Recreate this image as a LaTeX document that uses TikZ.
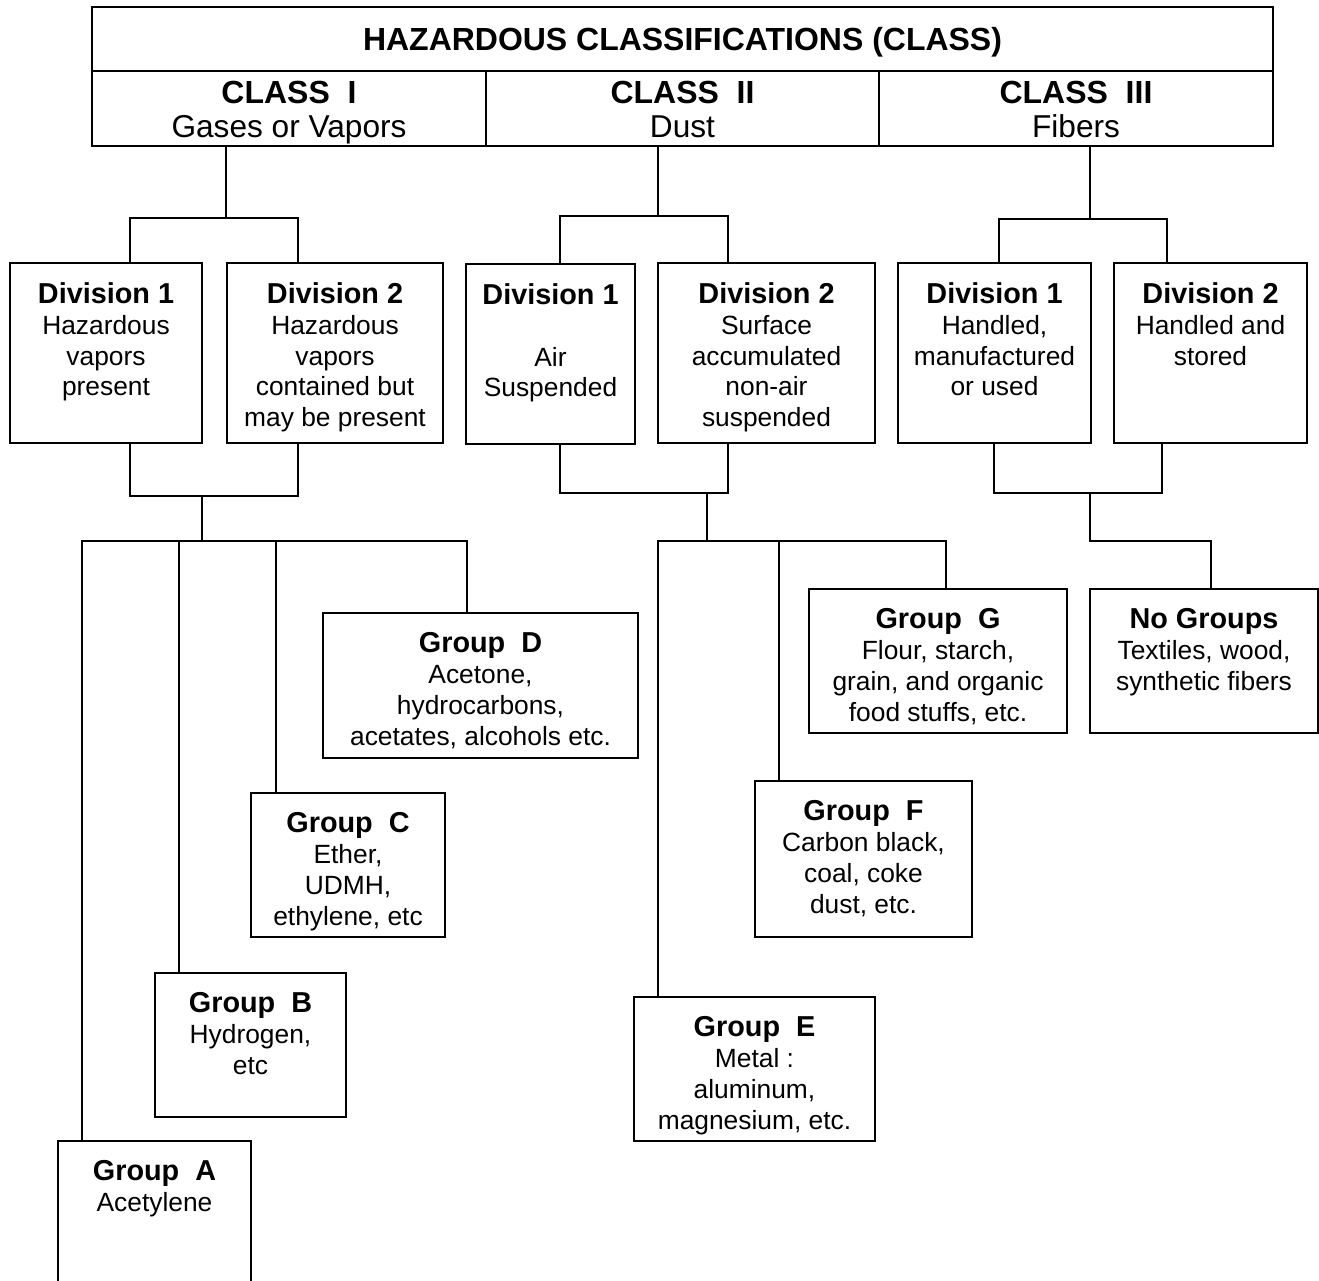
\documentclass[tikz,border=0pt]{standalone}
\usepackage{fontspec}
\setmainfont{Liberation Sans}
\usetikzlibrary{fit,positioning}
\newcommand\hdr[1]{{\fontsize{16.4}{17.6}\selectfont\bfseries #1}}
\newcommand\chd[1]{{\fontsize{18.2}{19.3}\selectfont\bfseries #1}}

\begin{document}
\begin{tikzpicture}[x=0.02cm, y=-0.02cm, line width=0.9pt,
    cell/.style={draw, line width=1.1pt, inner sep=0pt},
    txt/.style={inner sep=0pt, align=center, font=\fontsize{15}{17.6}\selectfont},
    head/.style={inner sep=0pt, align=center, font=\fontsize{18}{19.6}\selectfont}]
  \useasboundingbox (0,0) rectangle (1319,1281);
  \clip (0,0) rectangle (1319,1281);
  % header table
  \node[cell, fit={(92,7) (1273,71)}] (top) {};
  \node[cell, fit={(92,71) (486,146)}] (c1) {};
  \node[cell, fit={(486,71) (879,146)}] (c2) {};
  \node[cell, fit={(879,71) (1273,146)}] (c3) {};
  \node[head, anchor=base] (title) at (top.center |- 0,51) {\chd{HAZARDOUS CLASSIFICATIONS (CLASS)}};
  \node[head, below=0.2cm of c1.north] (c1t) {\chd{CLASS~~I}\\ Gases or Vapors};
  \node[head, below=0.2cm of c2.north] (c2t) {\chd{CLASS~~II}\\ Dust};
  \node[head, below=0.2cm of c3.north] (c3t) {\chd{CLASS~~III}\\ Fibers};

  % divisions
  \node[cell, fit={(10,263) (202,443)}] (c1d1) {};
  \node[cell, fit={(227,263) (443,443)}] (c1d2) {};
  \node[cell, fit={(466,264) (635,444)}] (c2d1) {};
  \node[cell, fit={(658,263) (875,443)}] (c2d2) {};
  \node[cell, fit={(898,263) (1091,443)}] (c3d1) {};
  \node[cell, fit={(1114,263) (1307,443)}] (c3d2) {};
  \node[txt, below=0.39cm of c1d1.north] (c1d1t) {\hdr{Division 1}\\ Hazardous\\ vapors\\ present};
  \node[txt, below=0.39cm of c1d2.north] (c1d2t) {\hdr{Division 2}\\ Hazardous\\ vapors\\ contained but\\ may be present};
  \node[txt, below=0.39cm of c2d1.north] (c2d1t) {\hdr{Division 1}\\[17.6pt] Air\\ Suspended};
  \node[txt, below=0.39cm of c2d2.north] (c2d2t) {\hdr{Division 2}\\ Surface\\ accumulated\\ non-air\\ suspended};
  \node[txt, below=0.39cm of c3d1.north] (c3d1t) {\hdr{Division 1}\\ Handled,\\ manufactured\\ or used};
  \node[txt, below=0.39cm of c3d2.north] (c3d2t) {\hdr{Division 2}\\ Handled and\\ stored};

  % groups
  \node[cell, fit={(58,1141) (251,1300)}] (gA) {};
  \node[cell, fit={(155,973) (346,1117)}] (gB) {};
  \node[cell, fit={(251,793) (445,937)}] (gC) {};
  \node[cell, fit={(323,613) (638,758)}] (gD) {};
  \node[cell, fit={(634,997) (875,1141)}] (gE) {};
  \node[cell, fit={(755,781) (972,937)}] (gF) {};
  \node[cell, fit={(809,589) (1067,733)}] (gG) {};
  \node[cell, fit={(1090,589) (1318,733)}] (gN) {};
  \node[txt, below=0.39cm of gA.north] (gAt) {\hdr{Group~~A}\\ Acetylene};
  \node[txt, below=0.39cm of gB.north] (gBt) {\hdr{Group~~B}\\ Hydrogen,\\ etc};
  \node[txt, below=0.39cm of gC.north] (gCt) {\hdr{Group~~C}\\ Ether,\\ UDMH,\\ ethylene, etc};
  \node[txt, below=0.39cm of gD.north] (gDt) {\hdr{Group~~D}\\ Acetone,\\ hydrocarbons,\\ acetates, alcohols etc.};
  \node[txt, below=0.39cm of gE.north] (gEt) {\hdr{Group~~E}\\ Metal :\\ aluminum,\\ magnesium, etc.};
  \node[txt, below=0.39cm of gF.north] (gFt) {\hdr{Group~~F}\\ Carbon black,\\ coal, coke\\ dust, etc.};
  \node[txt, below=0.39cm of gG.north] (gGt) {\hdr{Group~~G}\\ Flour, starch,\\ grain, and organic\\ food stuffs, etc.};
  \node[txt, below=0.39cm of gN.north] (gNt) {\hdr{No Groups}\\ Textiles, wood,\\ synthetic fibers};

  % class I connectors
  \coordinate (s1) at (226,218);
  \coordinate (m1) at (202,496);
  \coordinate (r1) at (202,541);
  \draw (c1.south -| s1) -- (s1);
  \draw (c1d1.north -| 130,0) |- (s1) -| (c1d2.north -| 298,0);
  \draw (c1d1.south -| 130,0) |- (m1) -| (c1d2.south -| 298,0);
  \draw (m1) -- (r1);
  \draw (gA.north -| 82,0) |- (r1) -| (gD.north -| 467,0);
  \draw (gB.north -| 179,0) |- (r1);
  \draw (gC.north -| 276,0) |- (r1);

  % class II connectors
  \coordinate (s2) at (658,216);
  \coordinate (m2) at (707,493);
  \coordinate (r2) at (707,541);
  \draw (c2.south -| s2) -- (s2);
  \draw (c2d1.north -| 560,0) |- (s2) -| (c2d2.north -| 728,0);
  \draw (c2d1.south -| 560,0) |- (m2) -| (c2d2.south -| 728,0);
  \draw (m2) -- (r2);
  \draw (gE.north -| 658,0) |- (r2) -| (gG.north -| 946,0);
  \draw (gF.north -| 779,0) |- (r2);

  % class III connectors
  \coordinate (s3) at (1090,219);
  \coordinate (m3) at (1090,493);
  \coordinate (r3) at (1090,541);
  \draw (c3.south -| s3) -- (s3);
  \draw (c3d1.north -| 999,0) |- (s3) -| (c3d2.north -| 1167,0);
  \draw (c3d1.south -| 994,0) |- (m3) -| (c3d2.south -| 1162,0);
  \draw (m3) -- (r3) -| (gN.north -| 1211,0);
\end{tikzpicture}
\end{document}
